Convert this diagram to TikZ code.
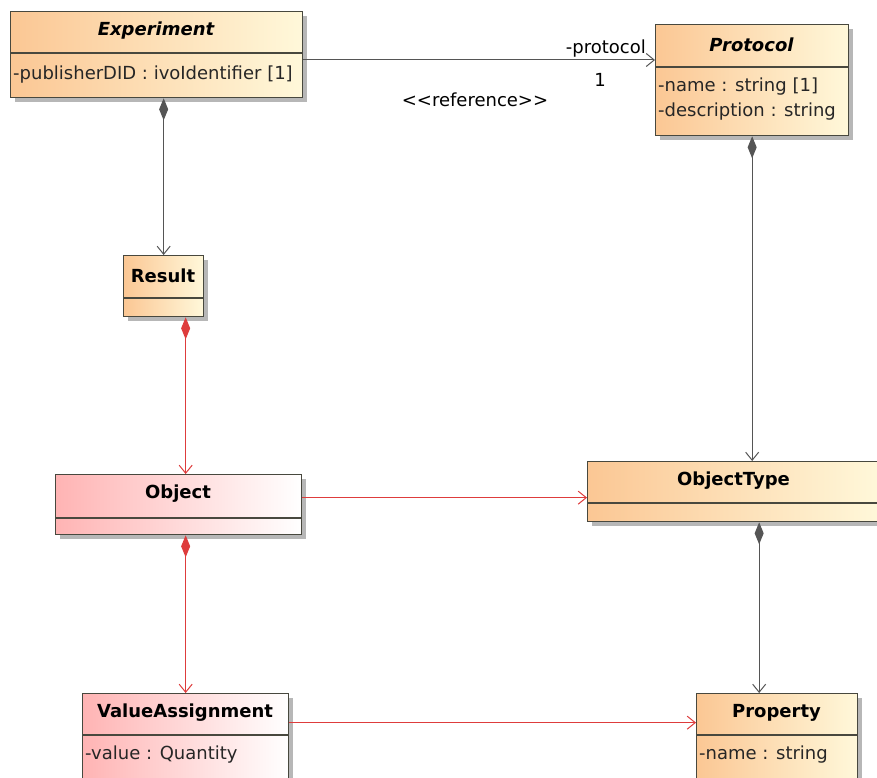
\documentclass[tikz,border=0pt]{standalone}
\usepackage{fontspec}
\setmainfont{DejaVu Sans}
\usetikzlibrary{arrows.meta, calc, shadows}
\definecolor{orangeL}{RGB}{251,199,148}
\definecolor{orangeR}{RGB}{255,248,218}
\definecolor{pinkL}{RGB}{255,180,180}
\definecolor{lineGray}{RGB}{85,85,85}
\definecolor{lineRed}{RGB}{222,60,60}
\definecolor{boxLine}{RGB}{72,72,62}

\begin{document}
\begin{tikzpicture}[x=1pt, y=-1pt, font=\fontsize{18}{21}\selectfont,
    cls/.style={draw=boxLine, line width=1.3pt, anchor=north west, inner sep=0pt,
      drop shadow={shadow xshift=4pt, shadow yshift=-4pt, fill=black!35, opacity=0.8}},
    warm/.style={cls, left color=orangeL, right color=orangeR},
    rose/.style={cls, left color=pinkL, right color=white},
    sep/.style={draw=boxLine, line width=1.3pt},
    title/.style={font=\fontsize{18}{21}\selectfont\bfseries},
    abstitle/.style={font=\fontsize{18}{21}\selectfont\bfseries\itshape},
    attr/.style={anchor=west, inner sep=0pt, text=black!85},
    comp/.style={draw=lineGray, line width=1pt, {Diamond[length=22pt,width=9pt]}-{Straight Barb[length=8pt,width=13pt]}},
    assoc/.style={draw=lineGray, line width=1pt, -{Straight Barb[length=8pt,width=13pt]}},
    redcomp/.style={comp, draw=lineRed},
    redassoc/.style={assoc, draw=lineRed}]
  \useasboundingbox[fill=white] (0,0) rectangle (877,778);

  % classes
  \node[warm, minimum width=292pt, minimum height=86pt] (exp) at (10,11) {};
  \draw[sep] (10,53) -- (302,53);
  \node[abstitle] (exp-n) at (156,31) {Experiment};
  \node[attr] (exp-a) at (13,75) {-publisherDID : ivoIdentifier [1]};

  \node[warm, minimum width=193pt, minimum height=111pt] (prot) at (655,24) {};
  \draw[sep] (655,67) -- (848,67);
  \node[abstitle] (prot-n) at (751.5,45) {Protocol};
  \node[attr] (prot-a1) at (658,87) {-name : string [1]};
  \node[attr] (prot-a2) at (658,112) {-description : string};

  \node[warm, minimum width=80pt, minimum height=61pt] (res) at (123,255) {};
  \draw[sep] (123,298) -- (203,298);
  \node[title] (res-n) at (163,276) {Result};

  \node[rose, minimum width=246pt, minimum height=60pt] (obj) at (55,474) {};
  \draw[sep] (55,518) -- (301,518);
  \node[title] (obj-n) at (178,494) {Object};

  \node[warm, minimum width=293pt, minimum height=60pt] (otype) at (587,461) {};
  \draw[sep] (587,503) -- (880,503);
  \node[title] (otype-n) at (733.5,481) {ObjectType};

  \node[rose, minimum width=206pt, minimum height=97pt] (va) at (82,693) {};
  \draw[sep] (82,735) -- (288,735);
  \node[title] (va-n) at (185,713) {ValueAssignment};
  \node[attr] (va-a) at (85,755) {-value : Quantity};

  \node[warm, minimum width=161pt, minimum height=97pt] (prop) at (696,693) {};
  \draw[sep] (696,735) -- (857,735);
  \node[title] (prop-n) at (776.5,713) {Property};
  \node[attr] (prop-a) at (699,755) {-name : string};

  % relations
  \draw[assoc] ([yshift=-49pt]exp.north east) -- ([yshift=-36pt]prot.north west);
  \node[anchor=south east, inner sep=1pt] (role) at (647,58) {-protocol};
  \node (mult) at (600,80) {1};
  \node (stereo) at (475,100) {<{}<reference>{}>};

  \draw[comp] (res.north |- exp.south) -- (res.north);
  \draw[comp] (prot.south) -- (prot.south |- otype.north);
  \draw[redcomp] ([xshift=22pt]res.south) -- ([xshift=22pt]res.south |- obj.north);
  \draw[redassoc] ([yshift=7pt]obj.east) -- ([yshift=7pt]obj.east -| otype.west);
  \draw[redcomp] ([xshift=7pt]obj.south) -- ([xshift=7pt]obj.south |- va.north);
  \draw[comp] ([xshift=25pt]otype.south) -- ([xshift=25pt]otype.south |- prop.north);
  \draw[redassoc] ([yshift=19.5pt]va.east) -- ([yshift=19.5pt]va.east -| prop.west);
\end{tikzpicture}
\end{document}
